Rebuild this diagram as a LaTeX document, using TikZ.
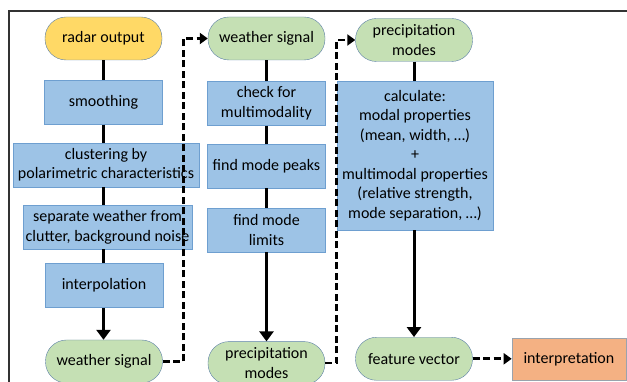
\documentclass[tikz,border=0pt]{standalone}
\usepackage{fontspec}
\setmainfont{Carlito}
\usepackage{tikz}
\usetikzlibrary{positioning}
\usetikzlibrary{arrows.meta}

\definecolor{procblue}{HTML}{9DC3E6}
\definecolor{procedge}{HTML}{6E9FD0}
\definecolor{termgreen}{HTML}{C5E0B4}
\definecolor{termgold}{HTML}{FFD966}
\definecolor{termedge}{HTML}{5B7FA6}
\definecolor{outorange}{HTML}{F4B183}
\definecolor{outedge}{HTML}{9AA3AD}

\begin{document}
\begin{tikzpicture}
    [x=1pt, y=1pt,
     every node/.style={font=\fontsize{16}{19.5}\selectfont, align=center, inner sep=2pt},
     proc/.style={draw=procedge, fill=procblue, minimum width=118pt, minimum height=44pt},
     term/.style={draw=termedge, fill=termgreen, rounded corners=21pt, minimum width=117pt, minimum height=43pt},
     flow/.style={line width=3pt, -{Triangle[width=14pt,length=10pt]}},
     link/.style={line width=3pt},
     jump/.style={line width=2.6pt, dash pattern=on 7pt off 3.5pt, -{Triangle[width=11pt,length=8pt]}}]

    \useasboundingbox (0,0) rectangle (627,382);
    \draw[line width=1.2pt, black!80] (9,0) -- (9,371) -- (627,371);

    % radar processing
    \node (radar) [term, fill=termgold] at (103.5,343.5) {radar output};
    \node (smooth) [proc, below = 20pt of radar] {smoothing};
    \node (clust) [proc, below = 18pt of smooth, xshift=2.5pt, minimum width=186pt] {clustering by\\polarimetric characteristics};
    \node (sep) [proc, below = 18pt of clust, xshift=1.5pt, minimum width=169pt] {separate weather from\\clutter, background noise};
    \node (interp) [proc, below = 14pt of sep, xshift=-3.5pt] {interpolation};
    \node (wsiga) [term, below = 32pt of interp] {weather signal};

    % mode finding
    \node (wsigb) [term] at (266.5,343.5) {weather signal};
    \node (check) [proc, below = 21pt of wsigb] {check for\\multimodality};
    \node (peaks) [proc, below = 18pt of check] {find mode peaks};
    \node (limits) [proc, below = 20pt of peaks] {find mode\\limits};
    \node (pmodesa) [term, below = 89pt of limits] {precipitation\\modes};

    % features
    \node (pmodesb) [term] at (414,342) {precipitation\\modes};
    \node (calc) [proc, below = 19pt of pmodesb, xshift=1pt, minimum width=156pt, minimum height=149pt]
        {calculate:\\modal properties\\(mean, width, …)\\+\\multimodal properties\\(relative strength,\\mode separation, …)};
    \node (feat) [term, below = 107pt of calc, xshift=-1pt] {feature vector};
    \node (interpr) [proc, right = 39pt of feat, draw=outedge, fill=outorange, minimum width=114pt, minimum height=42pt] {interpretation};

    \draw[link] (radar) -- (smooth);
    \draw[link] (smooth.south) -- (smooth.south |- clust.north);
    \draw[link] (smooth.south |- clust.south) -- (smooth.south |- sep.north);
    \draw[link] (smooth.south |- sep.south) -- (smooth.south |- interp.north);
    \draw[flow] (smooth.south |- interp.south) -- (smooth.south |- wsiga.north);

    \draw[link] (wsigb) -- (check);
    \draw[link] (check) -- (peaks);
    \draw[link] (peaks) -- (limits);
    \draw[flow] (limits) -- (pmodesa);

    \draw[link] (pmodesb.south) -- (pmodesb.south |- calc.north);
    \draw[flow] (pmodesb.south |- calc.south) -- (feat.north);

    \draw[jump] (wsiga.east) -- ++(21pt,0) |- (wsigb.west);
    \draw[jump] (pmodesa.east) -- ++(11pt,0) |- (pmodesb.west);
    \draw[jump] (feat) -- (interpr);

  \end{tikzpicture}
\end{document}
